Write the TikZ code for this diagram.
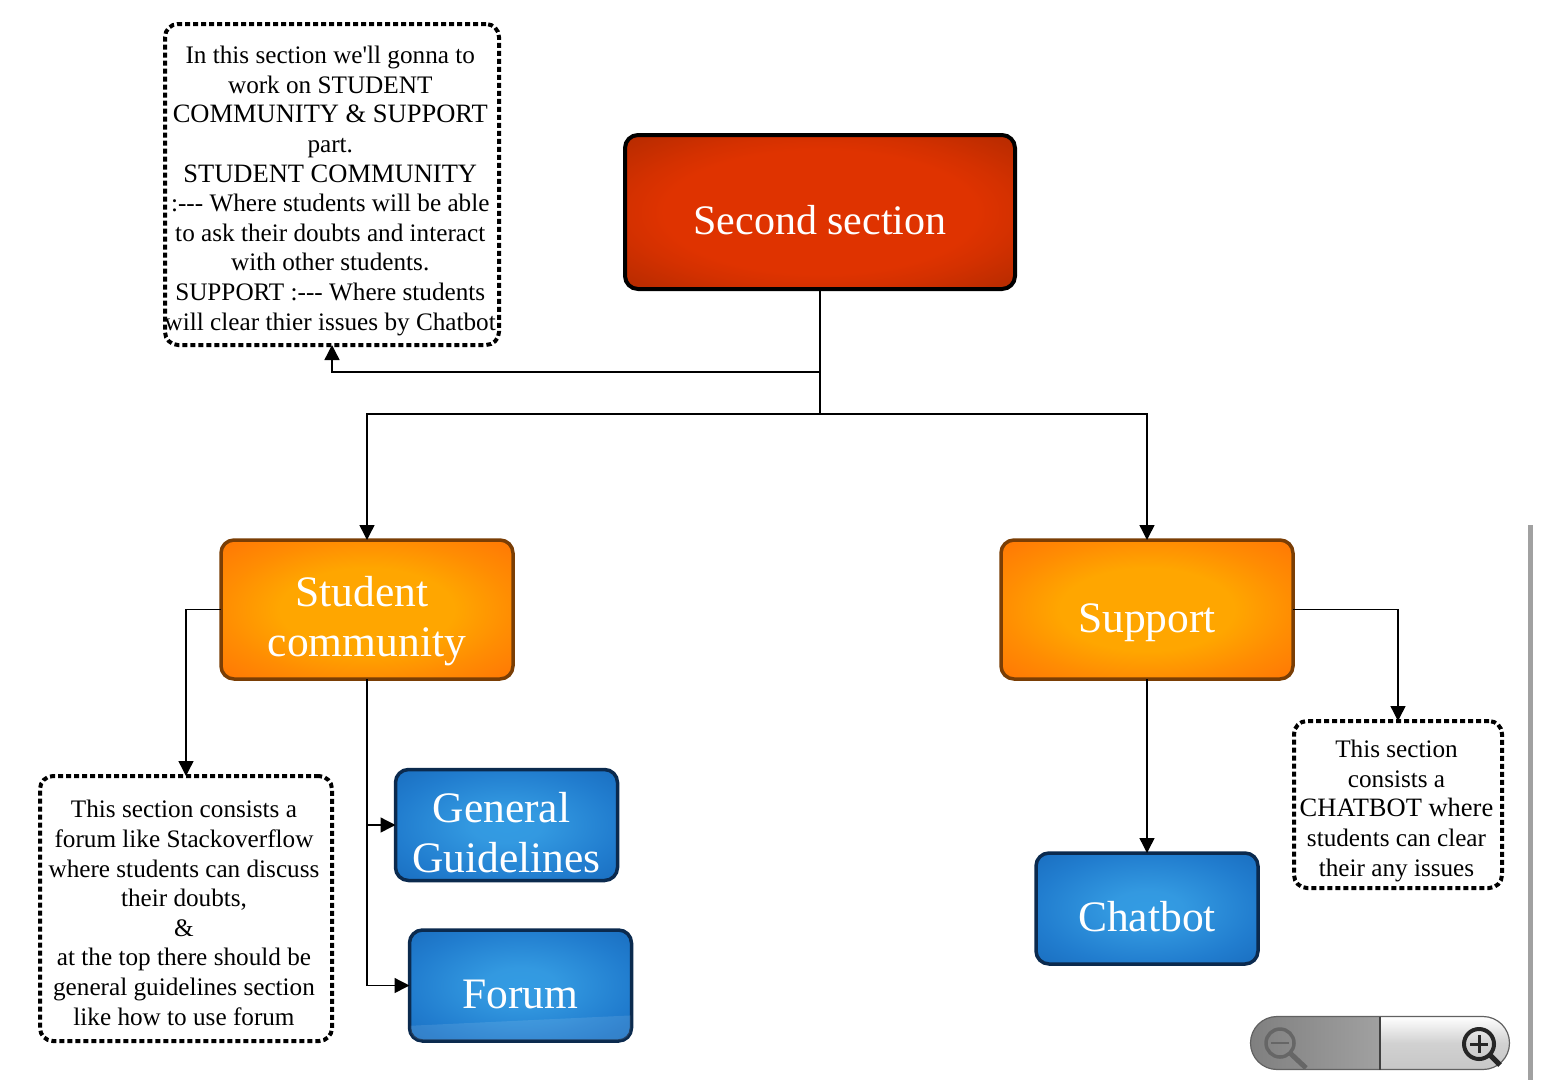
\documentclass[tikz,border=0pt]{standalone}
\usepackage{fontspec}
\setmainfont{Liberation Serif}[Ligatures=TeXOff]
\usetikzlibrary{arrows.meta}
\pgfdeclareradialshading{glowred}{\pgfpointorigin}{rgb(0bp)=(.875,.2,0); rgb(20bp)=(.875,.2,0); rgb(25bp)=(.83,.19,0); rgb(36bp)=(.70,.165,0); rgb(50bp)=(.70,.165,0)}
\pgfdeclareradialshading{gloworange}{\pgfpointorigin}{rgb(0bp)=(1,.65,0); rgb(15bp)=(1,.65,0); rgb(25bp)=(1,.55,.01); rgb(36bp)=(1,.46,.02); rgb(50bp)=(1,.46,.02)}
\pgfdeclareradialshading{glowblue}{\pgfpointorigin}{rgb(0bp)=(.20,.61,.89); rgb(8bp)=(.20,.60,.88); rgb(25bp)=(.13,.49,.81); rgb(36bp)=(.10,.43,.75); rgb(50bp)=(.10,.43,.75)}
\newcommand{\shifted}[3]{\makebox[0pt][c]{\hspace*{#1}\smash{\raisebox{#2}{\begin{tabular}[b]{@{}c@{}}#3\end{tabular}}}}}
\newcommand{\capsline}[1]{{\fontsize{26.5}{29.6}\selectfont #1}}
\tikzset{
  x=1pt,y=1pt,
  boxbase/.style={rounded corners=13pt,outer sep=0pt,inner sep=0pt,text=white,font=\fontsize{43.5}{49.5}\selectfont},
  redbox/.style={boxbase,font=\fontsize{42}{49.5}\selectfont,draw=black,line width=4pt,shading=glowred,minimum width=390pt,minimum height=154pt},
  orangebox/.style={boxbase,draw={rgb,255:red,122;green,62;blue,5},line width=3.5pt,shading=gloworange,minimum width=292pt,minimum height=139pt},
  bluebox/.style={boxbase,draw={rgb,255:red,11;green,42;blue,78},line width=3.5pt,shading=glowblue,minimum width=222pt,minimum height=111pt},
  notebox/.style={rounded corners=13pt,outer sep=0pt,inner sep=0pt,draw=black,line width=4pt,dash pattern=on 5pt off 3pt,fill=white,text=black,font=\fontsize{25.2}{29.6}\selectfont},
  link/.style={draw=black,line width=1.4pt},
  arrowlink/.style={link,-{Triangle[length=15pt,width=15pt]}}
}
\begin{document}
\begin{tikzpicture}
\useasboundingbox (0,0) rectangle (1542,-1088);
\node[redbox] (second) at (820,-212) {\shifted{0pt}{-22.5pt}{Second section}};
\node[orangebox] (student) at (367,-609.5) {\shifted{0pt}{-46.5pt}{Student\hspace*{10pt}\\community}};
\node[orangebox] (support) at (1147,-609.5) {\shifted{0pt}{-22.5pt}{Support}};
\node[bluebox] (general) at (506.5,-825) {\shifted{0pt}{-47pt}{General\hspace*{10pt}\\Guidelines}};
\node[bluebox] (forum) at (520.5,-985.5) {\shifted{0pt}{-22.5pt}{Forum}};
\node[bluebox] (chatbot) at (1147,-908.5) {\shifted{0pt}{-22.5pt}{Chatbot}};
\node[notebox,minimum width=334pt,minimum height=321pt] (topnote) at (332,-184.5) {\shifted{-3.5pt}{-145.5pt}{In this section we'll gonna to\\work on STUDENT\\\capsline{COMMUNITY \& SUPPORT}\\part.\\\capsline{STUDENT COMMUNITY}\\:--- Where students will be able\\to ask their doubts and interact\\with other students.\\SUPPORT :--- Where students\\will clear thier issues by Chatbot}};
\node[notebox,minimum width=292pt,minimum height=265pt] (leftnote) at (186,-908.5) {\shifted{-4pt}{-116.5pt}{This section consists a\\forum like Stackoverflow\\where students can discuss\\their doubts,\\\&\\at the top there should be\\general guidelines section\\like how to use forum}};
\node[notebox,minimum width=208pt,minimum height=167pt] (rightnote) at (1398,-804.5) {\shifted{-3pt}{-71.5pt}{This section\\consists a\\\capsline{CHATBOT where}\\students can clear\\their any issues}};
\coordinate (fork) at (820,-372);
\coordinate (bus) at (820,-414);
\draw[link] (second.south) -- (bus);
\draw[arrowlink] (fork) -| (topnote.south);
\draw[arrowlink] (bus) -| (student.north);
\draw[arrowlink] (bus) -| (support.north);
\draw[arrowlink] (student.west) -| (leftnote.north);
\draw[arrowlink] (student.south) |- (forum.west);
\draw[arrowlink] (student.south |- general.west) -- (general.west);
\draw[arrowlink] (support.south) -- (chatbot.north);
\draw[arrowlink] (support.east) -| (rightnote.north);
% gloss on the forum box
\begin{scope}
\clip[rounded corners=11pt] (410.5,-931) rectangle (630.5,-1040);
\fill[white,opacity=.1] (405,-1026) -- (640,-1015) -- (640,-1045) -- (405,-1045) -- cycle;
\end{scope}
% scroll bar
\fill[black!37] (1528,-525) rectangle (1533,-1080);
% zoom control
\shade[left color=black!50,right color=black!37,rounded corners=0pt] (1380,-1016.5) -- (1277,-1016.5) arc[start angle=90,end angle=270,radius=26.5] -- (1380,-1069.5) -- cycle;
\shade[top color=white,bottom color=black!22,middle color=black!18] (1380,-1016.5) -- (1483,-1016.5) arc[start angle=90,end angle=-90,radius=26.5] -- (1380,-1069.5) -- cycle;
\draw[black!62,line width=1.2pt] (1277,-1016.5) -- (1483,-1016.5) arc[start angle=90,end angle=-90,radius=26.5] -- (1277,-1069.5) arc[start angle=270,end angle=90,radius=26.5];
\draw[black!75,line width=1.5pt] (1380,-1016.5) -- (1380,-1069.5);
\draw[black!60,line width=3.5pt] (1280,-1043) circle[radius=14];
\draw[black!60,line width=5pt] (1290,-1053) -- (1306,-1068);
\draw[black!60,line width=2.5pt] (1271,-1043) -- (1289,-1043);
\draw[black!85,line width=4pt] (1479,-1044) circle[radius=15];
\draw[black!85,line width=5pt] (1490,-1055) -- (1500,-1065);
\draw[black!85,line width=3pt] (1470,-1044) -- (1488,-1044) (1479,-1035) -- (1479,-1053);
\end{tikzpicture}
\end{document}
